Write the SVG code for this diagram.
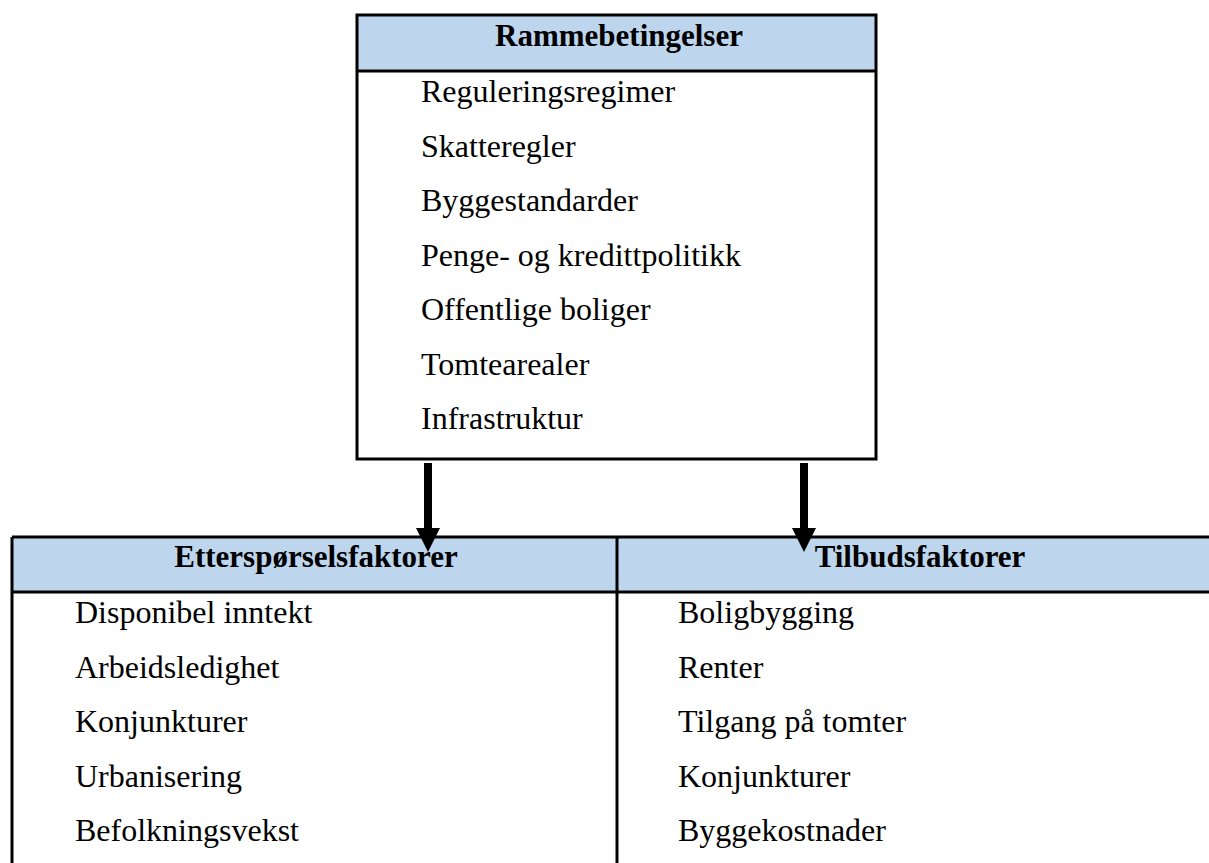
<svg xmlns="http://www.w3.org/2000/svg" width="1209" height="863" viewBox="0 0 1209 863">
<style>
.hdr{fill:#BDD6EE;stroke:none}
.ln{stroke:#000;stroke-width:3;fill:none}
.h{font-family:"Liberation Serif","Times New Roman",serif;font-weight:bold;font-size:31px;fill:#000;text-anchor:middle}
.t{font-family:"Liberation Serif","Times New Roman",serif;font-size:32px;fill:#000}
.arr{stroke:#000;stroke-width:8;fill:none}
</style>
<rect width="1209" height="863" fill="#fff"/>
<g id="rammebetingelser">
<rect class="hdr" x="357" y="15" width="519" height="56"/>
<rect class="ln" x="357" y="15" width="519" height="444"/>
<line class="ln" x1="357" y1="71" x2="876" y2="71"/>
<text class="h" x="619" y="46">Rammebetingelser</text>
<text class="t" x="421" y="102">Reguleringsregimer</text>
<text class="t" x="421" y="157">Skatteregler</text>
<text class="t" x="421" y="211">Byggestandarder</text>
<text class="t" x="421" y="266">Penge- og kredittpolitikk</text>
<text class="t" x="421" y="320">Offentlige boliger</text>
<text class="t" x="421" y="375">Tomtearealer</text>
<text class="t" x="421" y="429">Infrastruktur</text>
</g>
<g id="etterspørselsfaktorer">
<rect class="hdr" x="12" y="537" width="605" height="55"/>
<line class="ln" x1="12" y1="537" x2="617" y2="537"/>
<line class="ln" x1="12" y1="592" x2="617" y2="592"/>
<line class="ln" x1="12" y1="537" x2="12" y2="863"/>
<text class="h" x="316" y="567">Etterspørselsfaktorer</text>
<text class="t" x="75" y="623">Disponibel inntekt</text>
<text class="t" x="75" y="678">Arbeidsledighet</text>
<text class="t" x="75" y="732">Konjunkturer</text>
<text class="t" x="75" y="787">Urbanisering</text>
<text class="t" x="75" y="841">Befolkningsvekst</text>
</g>
<g id="tilbudsfaktorer">
<rect class="hdr" x="617" y="537" width="600" height="55"/>
<line class="ln" x1="617" y1="537" x2="1212" y2="537"/>
<line class="ln" x1="617" y1="592" x2="1212" y2="592"/>
<line class="ln" x1="617" y1="537" x2="617" y2="863"/>
<text class="h" x="920" y="567">Tilbudsfaktorer</text>
<text class="t" x="678" y="623">Boligbygging</text>
<text class="t" x="678" y="678">Renter</text>
<text class="t" x="678" y="732">Tilgang på tomter</text>
<text class="t" x="678" y="787">Konjunkturer</text>
<text class="t" x="678" y="841">Byggekostnader</text>
</g>
<g id="connectors">
<line class="arr" x1="428" y1="463" x2="428" y2="530"/>
<polygon points="416,528 440,528 428,552" fill="#000"/>
<line class="arr" x1="804" y1="463" x2="804" y2="530"/>
<polygon points="792,528 816,528 804,552" fill="#000"/>
</g>
</svg>
